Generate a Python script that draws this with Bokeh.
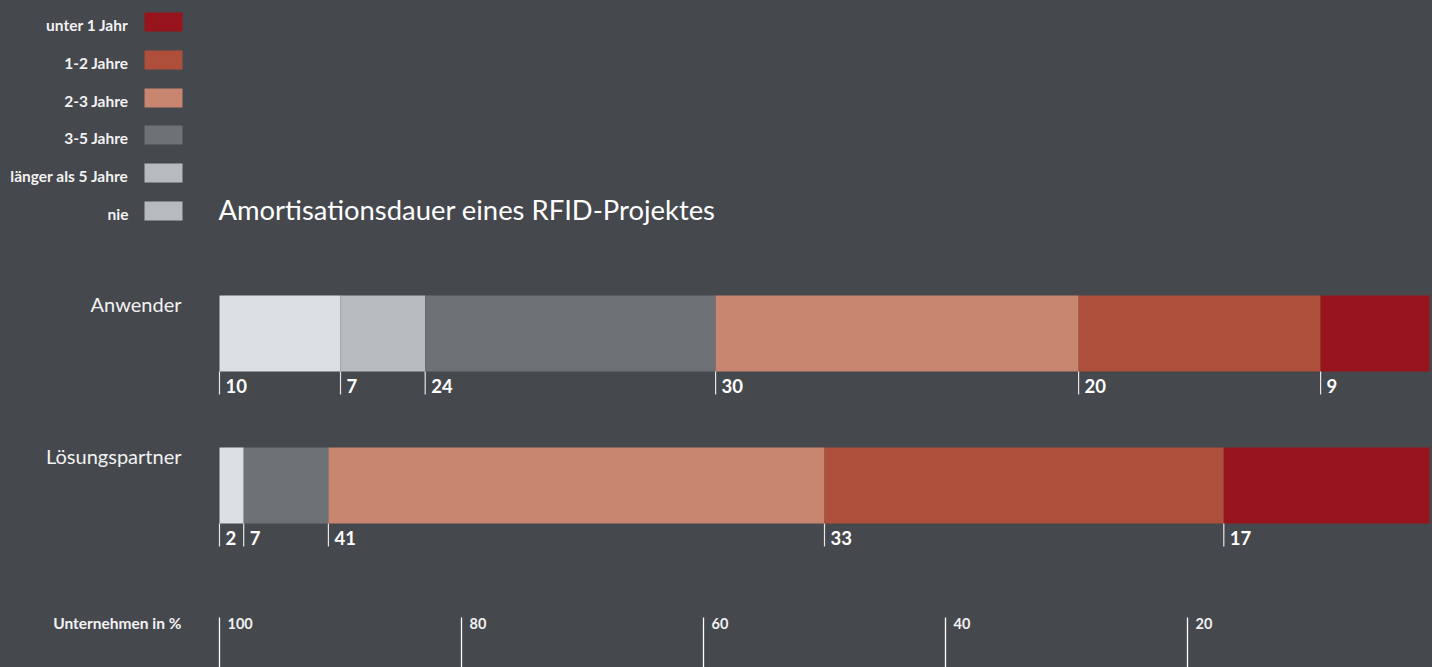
from bokeh.plotting import figure
from bokeh.models import Range1d
from bokeh.embed import file_html
from bokeh.resources import INLINE
from bokeh.core.properties import value

# ---------------- data ----------------
title = "Amortisationsdauer eines RFID-Projektes"
categories = ["Anwender", "Lösungspartner"]
series_names = ["nie", "länger als 5 Jahre", "3-5 Jahre", "2-3 Jahre", "1-2 Jahre", "unter 1 Jahr"]
anwender = [10, 7, 24, 30, 20, 9]
loesungspartner = [2, 0, 7, 41, 33, 17]
bar_colors = ["#dce0e3", "#b7bbbe", "#6e7276", "#c88670", "#ad4f3a", "#98141c"]
legend_labels = ["unter 1 Jahr", "1-2 Jahre", "2-3 Jahre", "3-5 Jahre", "länger als 5 Jahre", "nie"]
legend_colors = ["#98141c", "#ad4f3a", "#c88670", "#6e7276", "#b7bbbe", "#b7bbbe"]
axis_ticks = [100, 80, 60, 40, 20]
axis_title = "Unternehmen in %"

# ---------------- layout ----------------
W, H = 1432, 667
BG = "#45484d"
FONT = value("Lato")
X100 = 219.0          # pixel position of 100 %
PXU = 12.1            # pixels per percent
xs = 100 + X100 / PXU
xe = 100 - (W - X100) / PXU
SHIFT = 0.43          # baseline correction (fraction of font size)


def px(xpix):
    return xs + xpix / W * (xe - xs)


def txt(x, y, s, size, bold=False, align="left", color="#f2f2f2", x_offset=0):
    p.text(x=[x], y=[y - SHIFT * size], x_offset=x_offset, text=[s], text_font=FONT,
           text_font_size=value(f"{size}px"),
           text_font_style="bold" if bold else "normal",
           text_color=color, text_align=align, text_baseline="alphabetic")


p = figure(width=W, height=H, x_range=Range1d(xs, xe), y_range=Range1d(H, 0),
           output_backend="svg", toolbar_location=None, min_border=0,
           x_axis_type=None, y_axis_type=None,
           background_fill_color=BG, border_fill_color=BG, outline_line_color=None)
p.grid.visible = False

# legend
sw_top = [12, 50, 88, 125, 163, 201]
for lab, col, t in zip(legend_labels, legend_colors, sw_top):
    p.quad(left=[px(144)], right=[px(182)], top=[t], bottom=[t + 19],
           fill_color=col, line_color=None)
    txt(px(128), t + 19, lab, 15.5, bold=True, align="right")

# title
txt(px(218), 221, title, 27.4, color="#ffffff")

# bars
bar_top = [295, 447]
for cat, vals, top in zip(categories, [anwender, loesungspartner], bar_top):
    txt(px(181), top + 17, cat, 20, align="right")
    start = 100.0
    for v, col in zip(vals, bar_colors):
        if v <= 0:
            continue
        end = start - v
        p.quad(left=[start], right=[end], top=[top], bottom=[top + 76],
               fill_color=col, line_color=None)
        p.segment(x0=[start], y0=[top + 76], x1=[start], y1=[top + 99],
                  line_color="#e6e6e6", line_width=1.2)
        txt(start, top + 98, str(v), 18.5, bold=True, color="#ffffff", x_offset=6)
        start = end

# bottom scale
for t in axis_ticks:
    p.segment(x0=[t], y0=[617], x1=[t], y1=[H], line_color="#ffffff", line_width=1.3)
    txt(t, 629, str(t), 14.5, bold=True, x_offset=8)
txt(px(181), 629, axis_title, 15.5, bold=True, align="right")

html = file_html(p, INLINE, title=title)
html = html.replace("<head>", "<head><style>html,body{margin:0;padding:0;background:#45484d;overflow:hidden;}</style>", 1)
open("out.html", "w").write(html)
